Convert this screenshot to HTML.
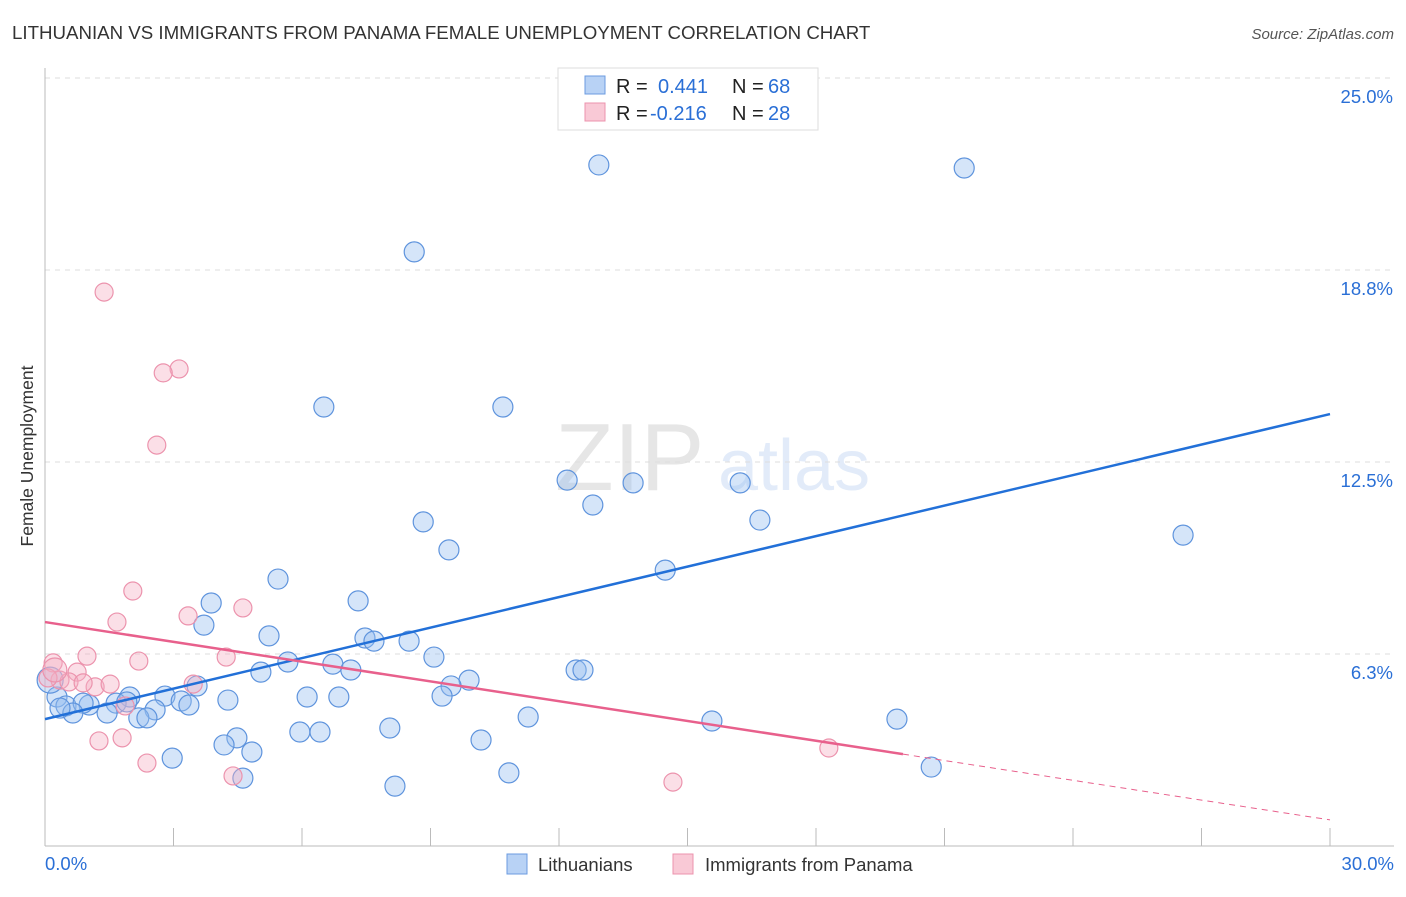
<!DOCTYPE html>
<html><head><meta charset="utf-8"><style>
body{margin:0;background:#fff;font-family:"Liberation Sans",sans-serif;}
svg text{font-family:"Liberation Sans",sans-serif;}
</style></head><body>
<svg id="chart" width="1406" height="892" viewBox="0 0 1406 892" xmlns="http://www.w3.org/2000/svg">
<text x="12" y="39" font-size="18.7" fill="#333">LITHUANIAN VS IMMIGRANTS FROM PANAMA FEMALE UNEMPLOYMENT CORRELATION CHART</text>
<text x="1394" y="39" font-size="15" fill="#555" text-anchor="end" font-style="italic">Source: ZipAtlas.com</text>
<text transform="translate(33,456) rotate(-90)" font-size="17.5" fill="#333" text-anchor="middle">Female Unemployment</text>
<g opacity="0.13">
<text x="555" y="490" font-size="96" fill="#444" font-family="Liberation Serif">ZIP</text>
<text x="718" y="490" font-size="72" fill="#2a6fd6">atlas</text>
</g>
<g id="grid"></g><g id="axes"></g><g id="points"></g><g id="lines"></g>
<g>
<rect x="558" y="68" width="260" height="62" fill="#fff" stroke="#ddd"/>
<rect x="585" y="76" width="20" height="18" fill="#b8d2f5" stroke="#6b9be0"/>
<text x="616" y="93" font-size="20" fill="#222">R =</text><text x="658" y="93" font-size="20" fill="#2a6fd6">0.441</text>
<text x="732" y="93" font-size="20" fill="#222">N =</text><text x="768" y="93" font-size="20" fill="#2a6fd6">68</text>
<rect x="585" y="103" width="20" height="18" fill="#f9c9d6" stroke="#ec93ad"/>
<text x="616" y="120" font-size="20" fill="#222">R =</text><text x="650" y="120" font-size="20" fill="#2a6fd6">-0.216</text>
<text x="732" y="120" font-size="20" fill="#222">N =</text><text x="768" y="120" font-size="20" fill="#2a6fd6">28</text>
</g>
<g>
<rect x="507" y="854" width="20" height="20" fill="#b8d2f5" stroke="#6b9be0"/>
<text x="538" y="871" font-size="18.5" fill="#333">Lithuanians</text>
<rect x="673" y="854" width="20" height="20" fill="#f9c9d6" stroke="#ec93ad"/>
<text x="705" y="871" font-size="18.5" fill="#333">Immigrants from Panama</text>
</g>
</svg>
<script>
const yTicks=[6.25,12.5,18.75,25];
const yTickLabels=["6.3%","12.5%","18.8%","25.0%"];
const xTickVals=[0,3,6,9,12,15,18,21,24,27,30];
const xEndLabels=["0.0%","30.0%"];
const blueX=[12.93,21.46,8.62,6.51,10.69,12.19,13.73,16.23,12.79,8.83,16.69,9.43,26.57,14.48,5.44,3.88,7.31,3.71,5.23,7.47,7.68,8.50,9.08,5.67,6.72,7.14,12.40,12.56,5.04,9.90,9.48,3.55,9.27,6.12,6.86,4.27,2.80,3.18,3.36,1.98,1.66,1.91,0.28,0.49,1.03,0.89,1.45,0.65,2.57,2.19,2.38,11.28,15.57,19.89,8.05,5.95,6.42,4.48,4.18,4.83,10.18,2.97,20.69,10.83,4.62,8.17,0.12,0.35];
const blueY=[22.17,22.07,19.34,14.29,14.29,11.91,11.82,11.82,11.10,10.55,10.61,9.64,10.12,8.98,8.69,7.91,7.98,7.19,6.84,6.77,6.67,6.67,6.15,5.99,5.92,5.73,5.73,5.73,5.66,5.40,5.21,5.21,4.88,4.85,4.85,4.75,4.88,4.72,4.59,4.85,4.65,4.69,4.85,4.56,4.59,4.65,4.33,4.33,4.43,4.17,4.17,4.20,4.07,4.13,3.84,3.71,3.71,3.52,3.29,3.06,3.45,2.86,2.57,2.38,2.21,1.95,5.40,4.49];
const pinkX=[1.38,3.13,2.76,2.61,2.05,1.68,3.34,4.62,4.23,0.98,2.19,0.19,0.75,0.35,0.56,0.07,1.17,1.52,0.89,3.46,1.87,1.26,1.80,2.38,4.39,14.66,18.30,0.23];
const pinkY=[18.03,15.53,15.40,13.05,8.30,7.29,7.49,7.75,6.15,6.18,6.02,5.96,5.66,5.40,5.34,5.47,5.18,5.27,5.31,5.27,4.56,3.42,3.52,2.70,2.28,2.08,3.19,5.73];
const blueTrend=[4.13,14.06];
const pinkTrend=[7.29,0.85];
const pinkSolidEnd=20.03;

const NS="http://www.w3.org/2000/svg";
const X=v=>45+v/30*1285;
const Y=v=>846-v/25*768;
function mk(tag,attrs,parent){const e=document.createElementNS(NS,tag);for(const k in attrs)e.setAttribute(k,attrs[k]);document.getElementById(parent).appendChild(e);return e;}
yTicks.forEach((t,i)=>{
  const l=mk('line',{x1:45,x2:1394,y1:Y(t),y2:Y(t),stroke:'#ddd','stroke-dasharray':'5,5'},'grid');
  
  
  const tx=mk('text',{x:1393,y:Y(t)+25,'font-size':18.5,fill:'#2a6fd6','text-anchor':'end'},'grid');
  tx.textContent=yTickLabels[i];
  
  
});
const ax=mk('line',{x1:45,x2:45,y1:68,y2:846,stroke:'#bbb'},'axes');


const bx=mk('line',{x1:45,x2:1394,y1:846,y2:846,stroke:'#bbb'},'axes');


xTickVals.forEach(v=>{
  const t=mk('line',{x1:X(v),x2:X(v),y1:828,y2:846,stroke:'#bbb'},'axes');
  
  
});
const xl0=mk('text',{x:45,y:870,'font-size':18.5,fill:'#2a6fd6'},'axes');
xl0.textContent=xEndLabels[0];


const xl1=mk('text',{x:1394,y:870,'font-size':18.5,fill:'#2a6fd6','text-anchor':'end'},'axes');
xl1.textContent=xEndLabels[1];


blueX.forEach((x,i)=>{
  const c=mk('circle',{cx:X(x),cy:Y(blueY[i]),r:i===66?13:10,fill:'rgba(150,190,240,0.4)',stroke:'#5f94dd','stroke-width':1.2},'points');
  
  
});
pinkX.forEach((x,i)=>{
  const c=mk('circle',{cx:X(x),cy:Y(pinkY[i]),r:i===27?12:9,fill:'rgba(245,175,195,0.4)',stroke:'#ec93ad','stroke-width':1.2},'points');
  
  
});
const bl=mk('line',{x1:X(0),y1:Y(blueTrend[0]),x2:X(30),y2:Y(blueTrend[1]),stroke:'#2270d8','stroke-width':2.5},'lines');


const py=x=>pinkTrend[0]+(pinkTrend[1]-pinkTrend[0])*x/30;
const pl=mk('line',{x1:X(0),y1:Y(pinkTrend[0]),x2:X(pinkSolidEnd),y2:Y(py(pinkSolidEnd)),stroke:'#e8608c','stroke-width':2.5},'lines');


const pd=mk('line',{x1:X(pinkSolidEnd),y1:Y(py(pinkSolidEnd)),x2:X(30),y2:Y(pinkTrend[1]),stroke:'#e8608c','stroke-width':1,'stroke-dasharray':'6,5'},'lines');


</script>
</body></html>
